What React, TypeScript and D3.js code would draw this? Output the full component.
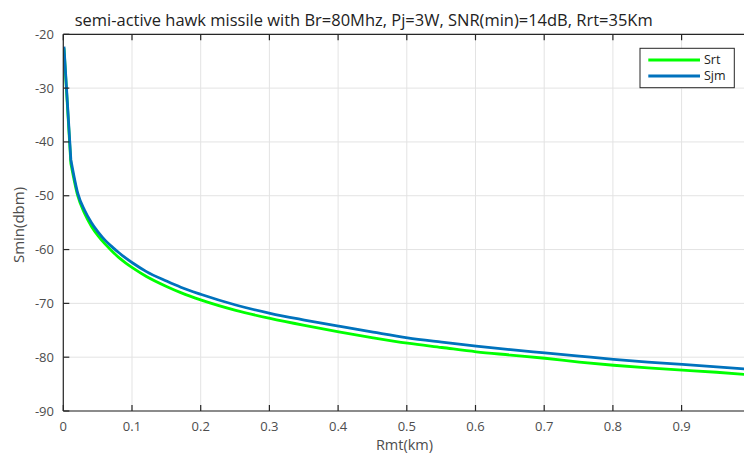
import React from "react";
import * as d3 from "d3";

const rmt = [0.001, 0.011, 0.021, 0.031, 0.041, 0.051, 0.061, 0.071, 0.081, 0.091, 0.101, 0.121, 0.151, 0.171, 0.201, 0.251, 0.301, 0.351, 0.401, 0.451, 0.501, 0.551, 0.601, 0.651, 0.701, 0.751, 0.801, 0.851, 0.901, 0.951, 1.001];
const srt = [-22.6, -44.0, -50.0, -53.3, -55.7, -57.5, -59.0, -60.3, -61.5, -62.5, -63.4, -65.0, -66.9, -68.0, -69.4, -71.3, -72.8, -74.1, -75.3, -76.4, -77.4, -78.2, -79.0, -79.6, -80.2, -80.9, -81.5, -82.0, -82.4, -82.8, -83.3];
const sjm = [-22.3, -43.3, -49.5, -52.7, -55.0, -56.8, -58.3, -59.5, -60.6, -61.6, -62.5, -64.1, -65.9, -67.0, -68.35, -70.3, -71.85, -73.1, -74.25, -75.35, -76.4, -77.2, -77.95, -78.6, -79.2, -79.8, -80.4, -80.9, -81.35, -81.8, -82.25];
const xTicks = [0, 0.1, 0.2, 0.3, 0.4, 0.5, 0.6, 0.7, 0.8, 0.9, 1];
const xTickLabels = ["0", "0.1", "0.2", "0.3", "0.4", "0.5", "0.6", "0.7", "0.8", "0.9", ""];
const yTicks = [-20, -30, -40, -50, -60, -70, -80, -90];
const seriesNames = ["Srt", "Sjm"];
const seriesColors = ["#00ff00", "#0072bd"];

const FONT = "'Open Sans', 'DejaVu Sans', sans-serif";

export default function App() {
  const W = 744, H = 454;
  const left = 63.3, right = 750.3, top = 34.3, bottom = 411;
  const x = d3.scaleLinear().domain([0, 1]).range([left, right]);
  const y = d3.scaleLinear().domain([-90, -20]).range([bottom, top]);
  const pts = (s: number[]) => s.map((v, i) => [x(rmt[i]), y(v)] as [number, number]);
  const lin = d3.line();
  const smooth = d3.line().curve(d3.curveMonotoneX);
  const pathFor = (s: number[]) => {
    const p = pts(s);
    const a = lin(p.slice(0, 2)) || "";
    const b = smooth(p.slice(1)) || "";
    return a + b.replace(/^M/, "L");
  };
  const series = [srt, sjm];
  const axisColor = "#262626";
  const tickColor = "#4d4d4d";
  const tl = 6;
  return (
    <svg width={W} height={H} style={{ position: "absolute", left: 0, top: 0, background: "#fff" }}>
      <rect x={0} y={0} width={W} height={H} fill="#fff" />
      {xTicks.map((t) => (
        <line key={"gx" + t} x1={x(t)} x2={x(t)} y1={top} y2={bottom} stroke="#e3e3e3" strokeWidth={1} />
      ))}
      {yTicks.map((t) => (
        <line key={"gy" + t} x1={left} x2={right} y1={y(t)} y2={y(t)} stroke="#e3e3e3" strokeWidth={1} />
      ))}
      <defs>
        <clipPath id="plotclip">
          <rect x={left} y={top} width={right - left} height={bottom - top} />
        </clipPath>
      </defs>
      <g clipPath="url(#plotclip)">
        {series.map((s, i) => (
          <path key={i} d={pathFor(s)} fill="none" stroke={seriesColors[i]} strokeWidth={2.8} strokeLinejoin="round" />
        ))}
      </g>
      <line x1={left} x2={right} y1={bottom} y2={bottom} stroke={axisColor} strokeWidth={1.2} />
      <line x1={left} x2={right} y1={top} y2={top} stroke={axisColor} strokeWidth={1.2} />
      <line x1={left} x2={left} y1={top} y2={bottom} stroke={axisColor} strokeWidth={1.2} />
      <line x1={right} x2={right} y1={top} y2={bottom} stroke={axisColor} strokeWidth={1.2} />
      {xTicks.map((t, i) => (
        <g key={"xt" + t}>
          <line x1={x(t)} x2={x(t)} y1={bottom} y2={bottom - tl} stroke={axisColor} strokeWidth={1.2} />
          <line x1={x(t)} x2={x(t)} y1={top} y2={top + tl} stroke={axisColor} strokeWidth={1.2} />
          {xTickLabels[i] && (
            <text x={x(t)} y={431} textAnchor="middle" fontFamily={FONT} fontSize={13} fill={tickColor}>
              {xTickLabels[i]}
            </text>
          )}
        </g>
      ))}
      {yTicks.map((t) => (
        <g key={"yt" + t}>
          <line x1={left} x2={left + tl} y1={y(t)} y2={y(t)} stroke={axisColor} strokeWidth={1.2} />
          <line x1={right} x2={right - tl} y1={y(t)} y2={y(t)} stroke={axisColor} strokeWidth={1.2} />
          <text x={54} y={y(t)} dy="0.35em" textAnchor="end" fontFamily={FONT} fontSize={13} fill={tickColor}>
            {String(t)}
          </text>
        </g>
      ))}
      <text x={74.7} y={26} fontFamily={FONT} fontSize={15.5} fill="#222" textLength={578} lengthAdjust="spacingAndGlyphs">
        semi-active hawk missile with Br=80Mhz, Pj=3W, SNR(min)=14dB, Rrt=35Km
      </text>
      <text x={404.5} y={450} textAnchor="middle" fontFamily={FONT} fontSize={14.5} fill={tickColor}>
        Rmt(km)
      </text>
      <text transform={`translate(24,225) rotate(-90)`} textAnchor="middle" fontFamily={FONT} fontSize={15} fill={tickColor}>
        Smin(dbm)
      </text>
      <rect x={640} y={48.3} width={94.3} height={39.4} fill="#fff" stroke={axisColor} strokeWidth={1} />
      {seriesNames.map((n, i) => (
        <g key={n}>
          <line x1={648.3} x2={700} y1={60 + i * 16} y2={60 + i * 16} stroke={seriesColors[i]} strokeWidth={2.8} />
          <text x={704} y={60 + i * 16} dy="0.35em" fontFamily={FONT} fontSize={12.5} fill="#222">
            {n}
          </text>
        </g>
      ))}
    </svg>
  );
}
